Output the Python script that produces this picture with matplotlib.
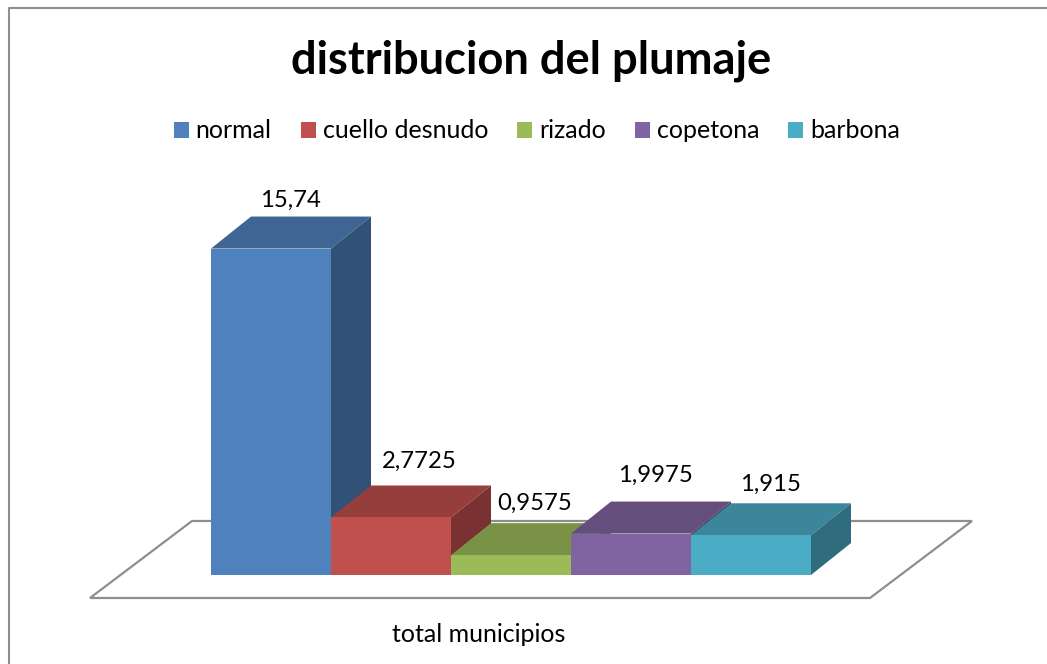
from matplotlib import pyplot as plt
from matplotlib.patches import Polygon, Patch
from matplotlib.lines import Line2D

categories = ["normal", "cuello desnudo", "rizado", "copetona", "barbona"]
values = [15.74, 2.7725, 0.9575, 1.9975, 1.915]
value_labels = ["15,74", "2,7725", "0,9575", "1,9975", "1,915"]
colors = ["#4F81BD", "#C0504D", "#9BBB59", "#8064A2", "#4BACC6"]
x_label = "total municipios"
title = "distribucion del plumaje"

W, H = 1047, 664
PX_X = 120.0  # pixels per category
PX_Y = 20.74  # pixels per unit of value
X0, Y0 = 211, 575  # pixel of the first bar's base corner
DX = 40 / PX_X  # depth of the 3d box
DY = 32 / PX_Y


def shade(color, f):
    r, g, b = [int(color[i:i + 2], 16) for i in (1, 3, 5)]
    return (r * f / 255, g * f / 255, b * f / 255)


plt.rcParams["font.family"] = ["Lato", "DejaVu Sans"]
fig = plt.figure(figsize=(W / 100, H / 100), dpi=100)
ax = fig.add_axes([0, 0, 1, 1])
ax.set_xlim(-X0 / PX_X, (W - X0) / PX_X)
ax.set_ylim((Y0 - H) / PX_Y, Y0 / PX_Y)
ax.axis("off")

# chart border, runs off the right and bottom of the crop
fig.add_artist(Line2D([8.5 / W, 8.5 / W, 1], [0, 1 - 7.5 / H, 1 - 7.5 / H],
                      color="#8E8E8E", lw=1.5))

# floor of the 3d chart
floor_x = [-121 / PX_X, 659 / PX_X, 659 / PX_X + 102 / PX_X, -19 / PX_X]
floor_y = [-23 / PX_Y, -23 / PX_Y, 54 / PX_Y, 54 / PX_Y]
ax.add_patch(Polygon(list(zip(floor_x, floor_y)), closed=True, fc="white",
                     ec="#8E8E8E", lw=1.6, zorder=1))

for i, v in enumerate(values):
    c = colors[i]
    z = 2 + i
    ax.bar(i, v, width=1, align="edge", color=c, zorder=z + 0.2, lw=0)
    top = [(i, v), (i + 1, v), (i + 1 + DX, v + DY), (i + DX, v + DY)]
    side = [(i + 1, 0), (i + 1 + DX, DY), (i + 1 + DX, v + DY), (i + 1, v)]
    ax.add_patch(Polygon(top, closed=True, fc=shade(c, 0.78), lw=0, zorder=z))
    ax.add_patch(Polygon(side, closed=True, fc=shade(c, 0.63), lw=0, zorder=z))

# data labels sit above the back edge of each box
label_off = [16, 24, 20, 26, 19]
label_shift = [-1, 8, 4, 4, -1]
for i, v in enumerate(values):
    ax.annotate(value_labels[i], (i + 0.5 + DX / 2, v + DY),
                xytext=(label_shift[i], label_off[i]), textcoords="offset pixels",
                ha="center", va="center", fontsize=17.2, color="black", zorder=20)

ax.text(268 / PX_X, (Y0 - 634) / PX_Y, x_label, ha="center", va="center",
        fontsize=18, color="black")
ax.text(320 / PX_X, (Y0 - 61) / PX_Y, title, ha="center", va="center",
        fontsize=32.6, fontweight="bold", color="black")

handles = [Patch(fc=c, lw=0) for c in colors]
ax.legend(handles, categories, ncols=5, loc="center", frameon=False,
          bbox_to_anchor=(537 / W, 1 - 131 / H), fontsize=18,
          handlelength=0.6, handleheight=0.6, handletextpad=0.28,
          columnspacing=1.16, borderpad=0)

fig.savefig("out.png", dpi=100)
